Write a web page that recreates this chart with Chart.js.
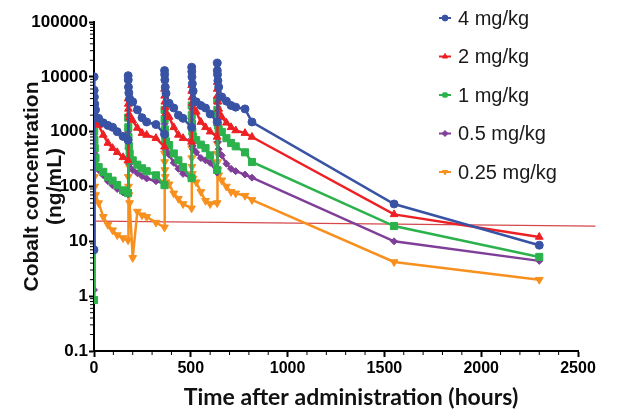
<!DOCTYPE html>
<html>
<head>
<meta charset="utf-8">
<script src="https://cdn.jsdelivr.net/npm/chart.js@4.4.1/dist/chart.umd.min.js"></script>
<style>
  body { margin: 0; background: #fff; }
  #wrap { width: 622px; height: 418px; }
</style>
</head>
<body>
<div id="wrap"><canvas id="pkChart"></canvas></div>
<script>
// sampling times (hours after first administration)
const hours = [
  0, 0.5, 1, 2, 4, 8, 24, 48, 72, 96, 120, 150,
  176, 176.5, 177, 178, 180, 184, 200, 224, 248, 272, 320,
  364, 364.5, 365, 366, 368, 372, 388, 412, 436, 460,
  504, 504.5, 505, 506, 508, 512, 528, 552, 576, 600,
  636, 636.5, 637, 638, 640, 644, 660, 684, 708, 732, 780, 816,
  1550, 2300
];

// cobalt concentration, ng/mL
const dose4 = [
  7, 10000, 5700, 4300, 3200, 2500, 1750, 1450, 1300, 1200, 1000, 820,
  700, 10500, 8800, 6500, 5100, 4000, 3500, 2500, 1800, 1500, 1350,
  900, 13000, 11000, 8800, 6500, 5000, 3300, 2700, 2000, 1750,
  1200, 15000, 12500, 10000, 7500, 5500, 3500, 3000, 2700, 2100,
  1500, 17800, 13000, 11000, 8500, 6500, 4300, 3600, 3000, 2800, 2600, 1500,
  48, 8.5
];
const dose2 = [
  null, 3000, 2500, 2000, 1700, 1450, 1320, 870, 620, 500, 420, 340,
  300, 4000, 3200, 2600, 2100, 1800, 1600, 1170, 940, 870, 760,
  530, 6000, 4500, 3500, 2800, 2200, 1850, 1200, 870, 760,
  650, 7000, 5500, 4200, 3300, 2700, 2300, 1500, 1200, 1000,
  800, 8000, 6000, 4500, 3500, 2600, 1850, 1450, 1200, 1050, 940, 800,
  31, 12
];
const dose1 = [
  0.85, 1500, 1000, 700, 500, 330, 226, 185, 150, 128, 106, 85,
  76, 1800, 1200, 800, 550, 400, 300, 250, 215, 190, 160,
  106, 2500, 1700, 1100, 800, 650, 570, 400, 300, 226,
  142, 3000, 2000, 1400, 1000, 800, 700, 580, 500, 370,
  200, 3700, 2500, 1800, 1300, 1100, 990, 760, 620, 540, 420, 280,
  19, 5.2
];
const dose05 = [
  1.3, 800, 550, 400, 300, 230, 200, 160, 125, 105, 90, 78,
  72, 1000, 700, 500, 350, 260, 200, 175, 155, 140, 125,
  115, 1400, 950, 650, 500, 460, 380, 270, 210, 170,
  140, 1700, 1100, 750, 550, 480, 420, 330, 300, 270,
  180, 2000, 1300, 900, 650, 480, 370, 260, 210, 190, 165, 145,
  10, 4.4
];
const dose025 = [
  null, 400, 250, 150, 100, 70, 50, 28, 20, 16, 13, 11.5,
  10.5, 250, 150, 100, 70, 50, 5, 35, 30, 28, 22,
  18, 400, 280, 200, 150, 120, 110, 75, 60, 48,
  40, 500, 330, 230, 170, 140, 120, 80, 55, 48,
  50, 600, 400, 280, 200, 160, 130, 100, 80, 75, 68, 57,
  4.2, 2.0
];

const doseLabels = ['4 mg/kg', '2 mg/kg', '1 mg/kg', '0.5 mg/kg', '0.25 mg/kg'];
const yTicks = [0.1, 1, 10, 100, 1000, 10000, 100000];
const xTitle = 'Time after administration (hours)';

// hand-drawn reference line (hours, ng/mL)
const refHours = [10, 2590];
const refLevel = [23.4, 19];

const seriesValues = [dose4, dose2, dose1, dose05, dose025];
const seriesColors = ['#3953a4', '#ed2024', '#2bb24c', '#7f3f98', '#f7901e'];
const seriesPoints = [
  { style: 'circle', radius: 4, rotation: 0 },
  { style: 'triangle', radius: 4.5, rotation: 0 },
  { style: 'rect', radius: 5, rotation: 0 },
  { style: 'rectRot', radius: 3.5, rotation: 0 },
  { style: 'triangle', radius: 4.5, rotation: 180 }
];

const datasets = seriesValues.map((vals, i) => ({
  label: doseLabels[i],
  data: hours.map((h, j) => ({ x: h, y: vals[j] })),
  borderColor: seriesColors[i],
  backgroundColor: seriesColors[i],
  borderWidth: 2.5,
  pointStyle: seriesPoints[i].style,
  pointRadius: seriesPoints[i].radius,
  pointRotation: seriesPoints[i].rotation,
  pointBorderWidth: 1,
  tension: 0
}));

datasets.push({
  label: 'ref',
  data: refHours.map((h, j) => ({ x: h, y: refLevel[j] })),
  borderColor: 'rgba(205,40,45,0.85)',
  borderWidth: 1.2,
  pointRadius: 0,
  clip: false
});

const tickFont = { family: '"Liberation Sans", Arial, sans-serif', weight: 'bold' };

// minor ticks, x title and legend drawn by hand (legend sits inside the plot)
const extras = {
  id: 'extras',
  afterDraw(chart) {
    const ctx = chart.ctx;
    const xs = chart.scales.x, ys = chart.scales.y;
    ctx.save();
    ctx.strokeStyle = '#000';
    ctx.lineWidth = 1;
    ctx.beginPath();
    for (let v = 100; v < 2500; v += 100) {
      if (v % 500 === 0) continue;
      const px = xs.getPixelForValue(v);
      ctx.moveTo(px, ys.bottom + 1);
      ctx.lineTo(px, ys.bottom + 4);
    }
    for (let k = 0; k < yTicks.length - 1; k++) {
      for (let m = 2; m < 10; m++) {
        const py = ys.getPixelForValue(yTicks[k] * m);
        ctx.moveTo(xs.left - 1, py);
        ctx.lineTo(xs.left - 4, py);
      }
    }
    ctx.stroke();

    // x title, a bit right of the plot centre like the original
    ctx.fillStyle = '#111';
    ctx.font = 'bold 23px Lato, "Liberation Sans", sans-serif';
    ctx.textAlign = 'center';
    ctx.textBaseline = 'middle';
    ctx.fillText(xTitle, 351, 398);

    ctx.font = '20px "Liberation Sans", Arial, sans-serif';
    ctx.textAlign = 'left';
    for (let i = 0; i < doseLabels.length; i++) {
      const cy = 18 + i * 38.5;
      const cx = 445;
      ctx.strokeStyle = seriesColors[i];
      ctx.fillStyle = seriesColors[i];
      ctx.lineWidth = 2;
      ctx.beginPath();
      ctx.moveTo(cx - 6, cy);
      ctx.lineTo(cx + 6, cy);
      ctx.stroke();
      ctx.lineWidth = 1;
      Chart.helpers.drawPoint(ctx, {
        pointStyle: seriesPoints[i].style,
        radius: 3,
        rotation: seriesPoints[i].rotation,
        borderWidth: 1
      }, cx, cy);
      ctx.fillStyle = '#1a1a1a';
      ctx.fillText(doseLabels[i], 458, cy + 1);
    }
    ctx.restore();
  }
};

new Chart(document.getElementById('pkChart'), {
  type: 'line',
  data: { datasets: datasets },
  options: {
    responsive: true,
    maintainAspectRatio: false,
    animation: false,
    layout: { padding: { left: 0, right: 44, top: 22, bottom: 0 } },
    plugins: {
      legend: { display: false },
      tooltip: { enabled: false }
    },
    scales: {
      x: {
        type: 'linear',
        min: 0,
        max: 2500,
        ticks: {
          stepSize: 500,
          color: '#000',
          font: { ...tickFont, size: 16 },
          padding: 2,
          callback: v => String(v)
        },
        grid: { drawOnChartArea: false, tickLength: 6, tickWidth: 2, tickColor: '#000' },
        border: { color: '#000', width: 2 },
        afterFit(scale) { scale.height = 67; }
      },
      y: {
        type: 'logarithmic',
        min: 0.1,
        max: 100000,
        afterBuildTicks(scale) { scale.ticks = yTicks.map(v => ({ value: v })); },
        ticks: {
          color: '#000',
          font: { ...tickFont, size: 17 },
          padding: 1,
          callback: v => String(v)
        },
        grid: { drawOnChartArea: false, tickLength: 5, tickWidth: 2, tickColor: '#000' },
        border: { color: '#000', width: 2 },
        title: {
          display: true,
          text: ['Cobalt concentration', '(ng/mL)'],
          color: '#111',
          font: { family: '"Liberation Sans", Arial, sans-serif', weight: 'bold', size: 21, lineHeight: 1.1 },
          padding: { top: 21, bottom: 0 }
        },
        afterFit(scale) { scale.width = 94; }
      }
    }
  },
  plugins: [extras]
});
</script>
</body>
</html>
